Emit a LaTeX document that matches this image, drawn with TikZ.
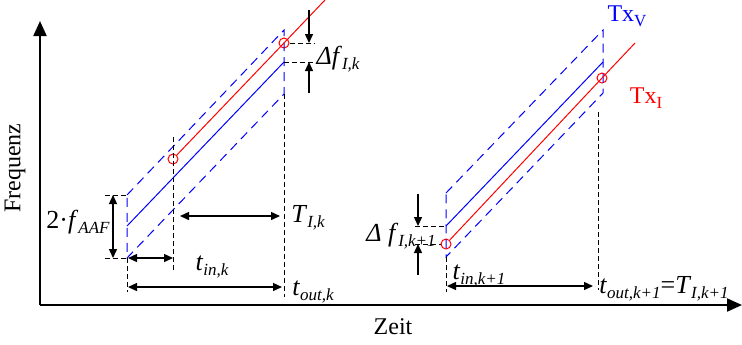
\documentclass[tikz,border=0pt]{standalone}
\usepackage{fontspec}
\setmainfont{Liberation Serif}
\usetikzlibrary{arrows.meta}
\newcommand{\lo}[1]{\raisebox{-0.45ex}{\fontsize{8.5}{10}\selectfont\itshape #1}}

\begin{document}
\begin{tikzpicture}[
  x=0.5pt,y=-0.5pt,
  >={Triangle[length=4.5pt,width=4pt]},
  every node/.style={font=\fontsize{13}{15}\selectfont},
  axis/.style={line width=1pt,-{Triangle[length=7.5pt,width=6.5pt]}},
  box/.style={blue,line width=0.5pt,dash pattern=on 4.5pt off 3pt},
  aux/.style={line width=0.5pt,dash pattern=on 2.5pt off 1.5pt},
  dim/.style={<->,line width=0.7pt},
  ring/.style={circle,draw=red,line width=0.5pt,inner sep=0pt,minimum size=5pt}
]
\useasboundingbox (0,0) rectangle (742,344);
% axes
\coordinate (O) at (40,305);
\coordinate (Y) at (40,21);
\coordinate (X) at (742,305);
\draw[axis] (O) -- (Y);
\draw[axis] (39.5,305) -- (X);
\node (fq) at (15,168) [rotate=90,font=\fontsize{12}{14}\selectfont] {Frequenz};
\node (zt) at (393,327) [font=\fontsize{12}{14}\selectfont] {Zeit};

% block k
\coordinate (A1) at (127,195);
\coordinate (A2) at (284,30);
\coordinate (A3) at (284,94);
\coordinate (A4) at (127,258);
\coordinate (AM1) at (127,226);
\coordinate (AM2) at (284,62);
\coordinate (AR) at (325,0);
\node[ring] (ai) at (173,159) {};
\node[ring] (ao) at (284,43) {};
\draw[box] (A1) -- (A2) -- (A3) -- (A4) -- cycle;
\draw[blue,line width=0.5pt] (AM1) -- (AM2);
\draw[red,line width=0.5pt] (ai) -- (ao.center) -- (AR);
\draw[aux] (173,137) -- (173,272);
\draw[aux] (A3) -- (284,297);
\draw[aux] (A4) -- (127,292);
\draw[aux] (105,195) -- (A1);
\draw[aux] (105,258) -- (A4);
\draw[aux] (ao) -- (315,43);
\draw[aux] (AM2) -- (315,62);
\draw[dim] (113,195) -- (113,258);
\draw[dim] (128,258) -- (173,258);
\draw[dim] (180,216) -- (280,216);
\draw[dim] (128,287) -- (282,287);
\draw[->,line width=0.7pt] (309,10) -- (309,43);
\draw[->,line width=0.7pt] (309,93) -- (309,62);
\node (aaf) at (78,222) {2·\textit{f}\lo{AAF}};
\node (tin) at (212,267) {\textit{t}\lo{in,k}};
\node (ti) at (308,218) {\textit{T}\lo{I,k}};
\node (tout) at (313,292) {\textit{t}\lo{out,k}};
\node (df) at (338,59) {\textit{Δf}\lo{I,k}};

% block k+1
\coordinate (B1) at (446,193);
\coordinate (B2) at (603,30);
\coordinate (B3) at (603,93);
\coordinate (B4) at (446,257);
\coordinate (BM1) at (446,226);
\coordinate (BM2) at (603,62);
\coordinate (BR) at (635,43);
\node[ring] (bi) at (446,244) {};
\node[ring] (bo) at (602,78) {};
\draw[box] (B1) -- (B2) -- (B3) -- (B4) -- cycle;
\draw[blue,line width=0.5pt] (BM1) -- (BM2);
\draw[red,line width=0.5pt] (bi) -- (bo.center) -- (BR);
\draw[aux] (B4) -- (446,292);
\draw[aux] (598,112) -- (598,290);
\draw[aux] (415,226) -- (BM1);
\draw[aux] (415,244) -- (bi);
\draw[->,line width=0.7pt] (418,194) -- (418,226);
\draw[->,line width=0.7pt] (418,275) -- (418,244);
\draw[dim] (447,286) -- (593,286);
\node (df1) at (401,236) {\textit{Δ f}\lo{I,k+1}};
\node (tin1) at (479,276) {\textit{t}\lo{in,k+1}};
\node (tout1) at (664,289) {\textit{t}\lo{out,k+1}=\textit{T}\lo{I,k+1}};
\node (txv) at (627,16) [blue,font=\fontsize{12}{14}\selectfont] {Tx\raisebox{-0.45ex}{\fontsize{8.5}{10}\selectfont V}};
\node (txi) at (646,98) [red,font=\fontsize{12}{14}\selectfont] {Tx\raisebox{-0.45ex}{\fontsize{8.5}{10}\selectfont I}};
\end{tikzpicture}
\end{document}
